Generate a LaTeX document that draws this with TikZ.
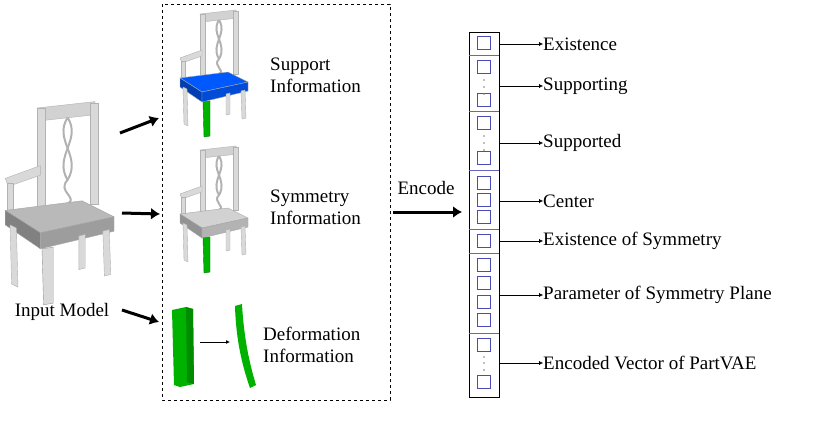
\documentclass[tikz,border=0pt]{standalone}
\usepackage{fontspec}
\setmainfont{Liberation Serif}
\usetikzlibrary{arrows.meta}
\colorlet{seatgray}{gray!55}
\colorlet{seatlight}{gray!35}
\colorlet{seatblue}{blue!65!cyan}
\colorlet{leggreen}{green!70!black}
\colorlet{leggray}{gray!30}
\tikzset{
  lbl/.style={font=\fontsize{19}{22}\selectfont, align=left, inner sep=0pt},
  cell/.style={draw=blue!60!black!70, minimum size=13pt, inner sep=0pt},
  sep/.style={blue!60!black!60, thick},
  fat/.style={line width=3pt, -{Latex[length=9pt,width=12pt]}},
  thin/.style={-{Latex[length=4pt,width=4pt]}},
  pics/chair/.style n args={3}{code={
    % back
    \fill[gray!35, draw=gray!60] (22,0) -- (58,-4) -- (60,4) -- (24,8) -- cycle;
    \fill[gray!30, draw=gray!60] (22,0) rectangle (27,62);
    \fill[gray!30, draw=gray!60] (55,-3) rectangle (60,60);
    \draw[gray!60, line width=2pt] (41,6) .. controls (32,20) and (50,30) .. (41,45) .. controls (34,52) and (48,56) .. (41,60);
    \draw[gray!60, line width=2pt] (41,6) .. controls (50,20) and (32,30) .. (41,45);
    % arm
    \fill[gray!30, draw=gray!60] (24,36) -- (2,44) -- (4,49) -- (24,42) -- cycle;
    \fill[gray!30, draw=gray!60] (3,47) rectangle (7,66);
    % seat
    \fill[#1, draw=gray!70] (2,64) -- (50,58) -- (70,68) -- (24,78) -- cycle;
    \fill[#1!70!black, draw=gray!70] (2,64) -- (24,78) -- (24,88) -- (2,73) -- cycle;
    \fill[#1!85!black, draw=gray!70] (24,78) -- (70,68) -- (70,77) -- (24,88) -- cycle;
    % legs
    \fill[gray!30, draw=gray!60] (5,73) -- (9,75) -- (10,112) -- (6,110) -- cycle;
    \fill[gray!30, draw=gray!60] (63,77) -- (67,76) -- (68,104) -- (64,105) -- cycle;
    \fill[#2, draw=#2!70!black] (25,88) -- (32,87) -- (32,122) -- (26,123) -- cycle;
    \fill[#3, draw=gray!60] (48,80) -- (52,79) -- (52,100) -- (48,101) -- cycle;
  }}
}
\begin{document}
\begin{tikzpicture}[x=1pt,y=-1pt]
\useasboundingbox (0,0) rectangle (822,432);
% input model
\pic[scale=1.6] at (2,108) {chair={seatgray}{leggray}{leggray}};
\node[lbl] (input) at (62,312) {Input Model};
% dashed frame
\draw[dashed, thick] (162,4) rectangle (390,400);
\pic at (178,14) {chair={seatblue}{leggreen}{leggray}};
\pic at (178,150) {chair={seatlight}{leggreen}{leggray}};
\node[lbl] (sup) at (270,75) [anchor=west] {Support\\Information};
\node[lbl] (sym) at (270,207) [anchor=west] {Symmetry\\Information};
\node[lbl] (def) at (263,345) [anchor=west] {Deformation\\Information};
% deformation bars
\fill[leggreen] (172,310) -- (186,307) -- (193,309) -- (194,384) -- (180,387) -- (174,385) -- cycle;
\fill[green!55!black] (186,307) -- (193,309) -- (194,384) -- (187,382) -- cycle;
\fill[leggreen] (235,306) -- (242,304) .. controls (244,340) and (250,365) .. (256,385) -- (250,388) .. controls (242,365) and (236,340) .. (235,306) -- cycle;
\coordinate (d1) at (200,342);
\coordinate (d2) at (230,342);
\draw[thin, thick] (d1) -- (d2);
% input arrows
\coordinate (a1) at (120,133); \coordinate (b1) at (159,118);
\coordinate (a2) at (122,213); \coordinate (b2) at (160,214);
\coordinate (a3) at (122,310); \coordinate (b3) at (159,322);
\draw[fat] (a1) -- (b1);
\draw[fat] (a2) -- (b2);
\draw[fat] (a3) -- (b3);
% encode
\coordinate (e1) at (393,212); \coordinate (e2) at (462,212);
\draw[fat] (e1) -- (e2);
\node[lbl] (enc) at (426,188) {Encode};
% vector
\draw[thick] (469,32) rectangle (499,397);
\foreach \y in {43,67,100,123,158,183,200,217,241,265,283,302,320,345,382}
  \node[cell] at (484,\y) {};
\foreach \y in {80,87,94, 136,143,150, 357,363,370}
  \fill[gray] (484,\y) circle (0.9pt);
\foreach \y in {55,111,170,229,253,333}
  \draw[sep] (469,\y) -- (499,\y);
\foreach \y/\t in {44/Existence, 86/Supporting, 143/Supported, 201/Center,
  241/Existence of Symmetry, 295/Parameter of Symmetry Plane, 363/Encoded Vector of PartVAE}{
  \coordinate (s\y) at (500,\y);
  \node[lbl, anchor=west] (t\y) at (543,\y) {\t};
  \draw[thin] (s\y) -- (t\y.west);
}
\end{tikzpicture}
\end{document}
